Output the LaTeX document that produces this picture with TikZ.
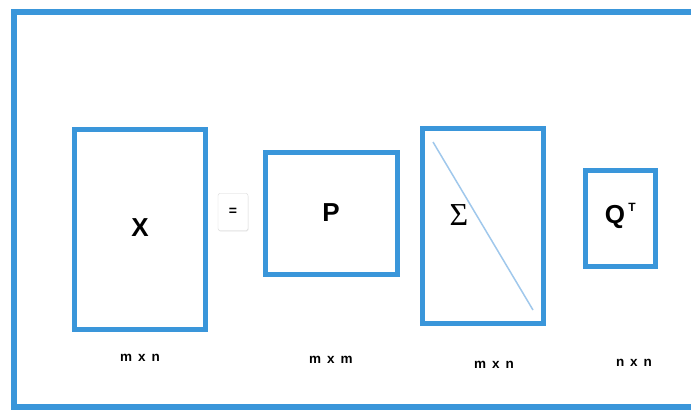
\documentclass[tikz,border=0pt]{standalone}
\usepackage{fontspec}
\setmainfont{Liberation Sans}
\newfontfamily\serifsig{Liberation Serif}
\usetikzlibrary{shadows}
\definecolor{frameblue}{RGB}{58,150,218}
\definecolor{diagblue}{RGB}{160,200,236}
\definecolor{eqgray}{RGB}{215,215,215}
\newcommand{\dimgap}{\hspace{6pt}}
\tikzset{
  mat/.style={draw=frameblue, line width=5pt, fill=white},
  big/.style={font=\bfseries\fontsize{26}{28}\selectfont},
  dimlabel/.style={font=\bfseries\fontsize{13.5}{14}\selectfont},
}
\begin{document}
\begin{tikzpicture}[x=1pt,y=-1pt]
\useasboundingbox (0,0) rectangle (691,413);
\begin{scope}
\clip (0,0) rectangle (691,413);
\draw[frameblue, line width=6pt] (14,12) rectangle (700,407);
\end{scope}
% matrices
\draw[mat] (74,129) rectangle (205,329);
\node[big] (x) at (140,228) {X};
\node[draw=eqgray, rounded corners=2pt, fill=white, drop shadow={opacity=0.15, shadow xshift=0.5pt, shadow yshift=-1pt},
      minimum width=30pt, minimum height=37pt, font=\bfseries\fontsize{14}{14}\selectfont] (eq) at (233,212) {=};
\draw[mat] (265,152) rectangle (397,274);
\node[big] (p) at (331,213) {P};
\draw[mat] (422,128) rectangle (543,323);
\coordinate (d1) at (433,142);
\coordinate (d2) at (533,310);
\draw[diagblue, line width=1.5pt] (d1) -- (d2);
\node[font=\serifsig\fontsize{32}{34}\selectfont] (s) at (459,215) {Σ};
\draw[mat] (585,170) rectangle (655,266);
\node[big] (q) at (615,217) {Q};
\node[font=\bfseries\fontsize{12}{12}\selectfont] (t) at (632,207) {T};
% dimension labels
\node[dimlabel] (l1) at (140,358) {m\dimgap x\dimgap n};
\node[dimlabel] (l2) at (331,360) {m\dimgap x\dimgap m};
\node[dimlabel] (l3) at (494,365) {m\dimgap x\dimgap n};
\node[dimlabel] (l4) at (634,363) {n\dimgap x\dimgap n};
\end{tikzpicture}
\end{document}
